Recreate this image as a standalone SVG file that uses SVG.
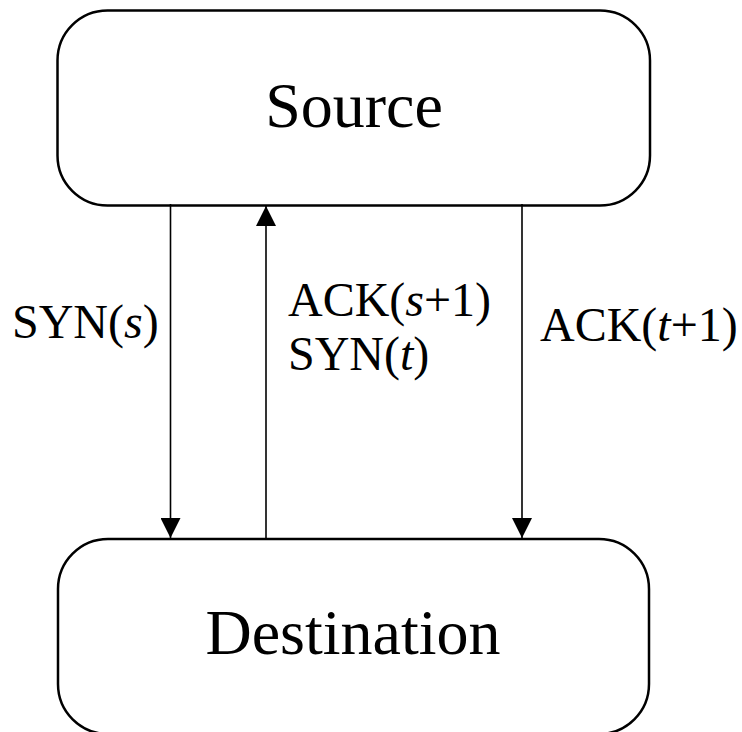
<svg xmlns="http://www.w3.org/2000/svg" width="742" height="732" viewBox="0 0 742 732">
<style>
.box{fill:#fff;stroke:#000;stroke-width:2.5}
.t{font-family:'Liberation Serif',Tinos,'Times New Roman',Times,'DejaVu Serif','Noto Serif',serif;fill:#000}
.big{font-size:64px}
.lbl{font-size:48px}
.conn line{stroke:#000;stroke-width:1.6}
</style>
<defs>
<marker id="ah" viewBox="0 0 20 20" refX="20" refY="10" markerWidth="20" markerHeight="20" markerUnits="userSpaceOnUse" orient="auto">
<path d="M0,0 L20,10 L0,20 Z" fill="#000"/>
</marker>
</defs>
<rect width="742" height="732" fill="#fff"/>
<g id="source">
<rect class="box" x="57.5" y="10.5" width="592.5" height="195" rx="50" ry="50"/>
<text class="t big" x="354" y="127" text-anchor="middle">Source</text>
</g>
<g id="destination">
<rect class="box" x="58" y="539" width="591" height="195" rx="50" ry="50"/>
<text class="t big" x="353" y="654" text-anchor="middle">Destination</text>
</g>
<g id="connectors" class="conn">
<line x1="170.5" y1="204" x2="170.5" y2="538" marker-end="url(#ah)"/>
<line x1="266" y1="539" x2="266" y2="206" marker-end="url(#ah)"/>
<line x1="522" y1="204" x2="522" y2="538" marker-end="url(#ah)"/>
</g>
<g id="labels">
<text class="t lbl" x="12" y="338">SYN(<tspan font-style="italic">s</tspan>)</text>
<text class="t lbl" x="288" y="316">ACK(<tspan font-style="italic">s</tspan>+1)</text>
<text class="t lbl" x="288" y="370">SYN(<tspan font-style="italic">t</tspan>)</text>
<text class="t lbl" x="540" y="341">ACK(<tspan font-style="italic">t</tspan>+1)</text>
</g>
</svg>
